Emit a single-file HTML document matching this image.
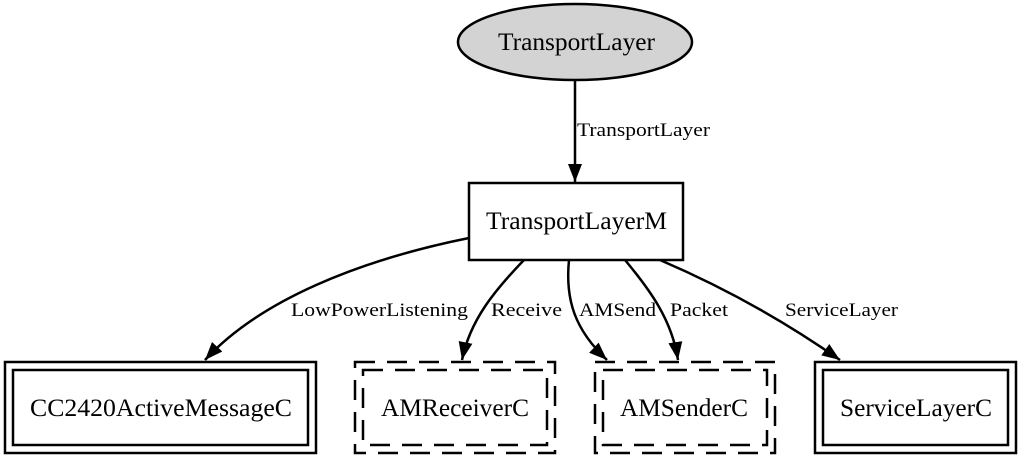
<!DOCTYPE html>
<html><head><style>body{margin:0;background:#fff}</style></head><body>
<svg width="1024" height="462" xmlns="http://www.w3.org/2000/svg" font-family="Liberation Serif, serif">
<defs><marker id="b" markerWidth="18" markerHeight="18" refX="18" refY="8" orient="auto" markerUnits="userSpaceOnUse"><path d="M0,1L18,8L0,15z" fill="#000"/></marker></defs>
<g stroke="#000" stroke-width="2.5" fill="none">
<ellipse cx="575" cy="42" rx="117" ry="38" fill="#d3d3d3"/>
<rect x="469" y="183" width="214" height="77" fill="#fff"/>
<rect x="5" y="362" width="311" height="91"/><rect x="13" y="370" width="295" height="75"/>
<rect x="815" y="362" width="201" height="91"/><rect x="823" y="370" width="185" height="75"/>
<g stroke-dasharray="20,12"><rect x="355" y="362" width="200" height="91"/><rect x="363" y="370" width="184" height="75"/>
<rect x="595" y="362" width="180" height="91"/><rect x="603" y="370" width="164" height="75"/></g>
<path d="M575,80L575,182" marker-end="url(#b)"/>
<path d="M469,238C360,260 260,300 205,360" marker-end="url(#b)"/>
<path d="M524,260C495,290 470,320 462,360" marker-end="url(#b)"/>
<path d="M569,260C565,300 575,330 607,360" marker-end="url(#b)"/>
<path d="M625,260C650,290 672,320 678,360" marker-end="url(#b)"/>
<path d="M660,260C730,290 790,325 840,360" marker-end="url(#b)"/>
</g>
<g font-size="25" fill="#000" lengthAdjust="spacingAndGlyphs">
<text x="498" y="50" textLength="157" lengthAdjust="spacingAndGlyphs">TransportLayer</text>
<text x="486" y="229" textLength="181" lengthAdjust="spacingAndGlyphs">TransportLayerM</text>
<text x="30" y="416" textLength="262" lengthAdjust="spacingAndGlyphs">CC2420ActiveMessageC</text>
<text x="381" y="416" textLength="148" lengthAdjust="spacingAndGlyphs">AMReceiverC</text>
<text x="620" y="416" textLength="128" lengthAdjust="spacingAndGlyphs">AMSenderC</text>
<text x="840" y="416" textLength="152" lengthAdjust="spacingAndGlyphs">ServiceLayerC</text>
</g>
<g font-size="19" fill="#000">
<text x="577" y="136" textLength="133" lengthAdjust="spacingAndGlyphs">TransportLayer</text>
<text x="291" y="316" textLength="177" lengthAdjust="spacingAndGlyphs">LowPowerListening</text>
<text x="491" y="316" textLength="71" lengthAdjust="spacingAndGlyphs">Receive</text>
<text x="579" y="316" textLength="77" lengthAdjust="spacingAndGlyphs">AMSend</text>
<text x="670" y="316" textLength="58" lengthAdjust="spacingAndGlyphs">Packet</text>
<text x="785" y="316" textLength="113" lengthAdjust="spacingAndGlyphs">ServiceLayer</text>
</g>
</svg>
</body></html>
